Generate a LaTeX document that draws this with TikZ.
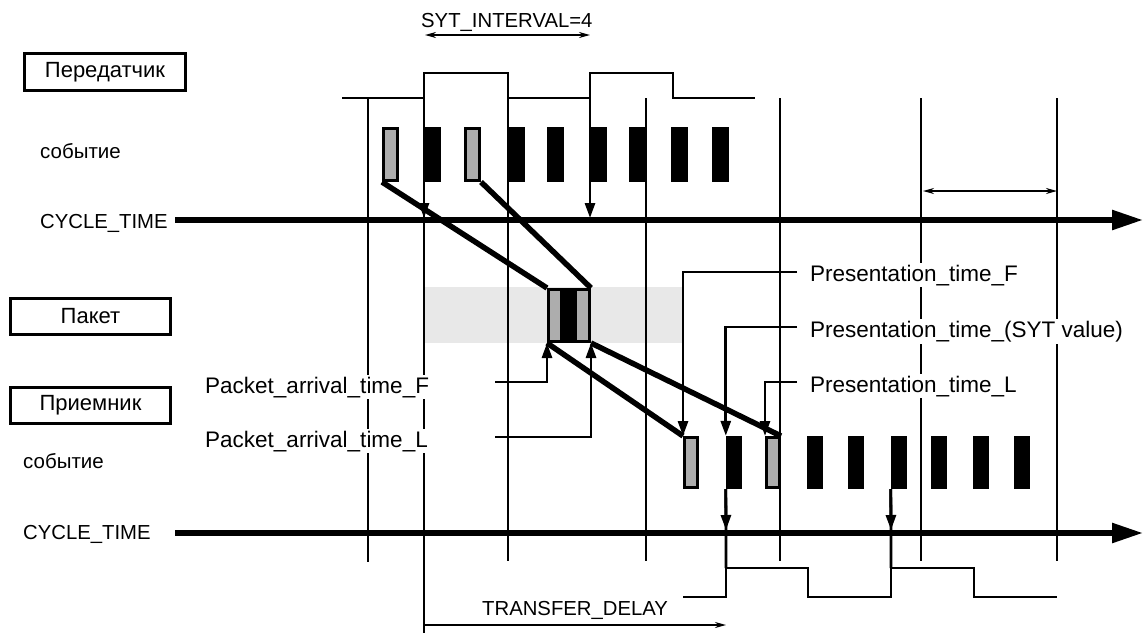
\documentclass[tikz,border=0pt]{standalone}
\usepackage{fontspec}
\setmainfont{Liberation Sans}
\usetikzlibrary{arrows.meta}
\definecolor{evgray}{gray}{0.68}
\definecolor{bandgray}{gray}{0.91}
\begin{document}
\begin{tikzpicture}[x=1pt,y=-1pt,
  thinln/.style={line width=2.8pt},
  axisln/.style={line width=5.5pt,-{Triangle[length=31pt,width=19pt]}},
  diagln/.style={line width=5.5pt},
  leadln/.style={line width=2.8pt,-{Triangle[length=15pt,width=10pt]}},
  dimln/.style={line width=1.6pt},
  topg/.style={draw,line width=2.8pt,fill=evgray,inner sep=0,minimum width=14.2pt,minimum height=52.2pt},
  topb/.style={fill=black,inner sep=0,minimum width=17pt,minimum height=55pt},
  botg/.style={draw,line width=2.8pt,fill=evgray,inner sep=0,minimum width=13.2pt,minimum height=50.2pt},
  botb/.style={fill=black,inner sep=0,minimum width=16pt,minimum height=53pt},
  lbox/.style={draw,line width=2.8pt,inner sep=0,minimum width=160.2pt,minimum height=36.2pt,font=\fontsize{22}{26}\selectfont},
  lab/.style={fill=white,inner sep=2pt,anchor=base west,font=\fontsize{22.5}{26}\selectfont},
  caps/.style={inner sep=0pt,anchor=base west,font=\fontsize{20.3}{24}\selectfont},
  sob/.style={inner sep=0pt,anchor=base west,font=\fontsize{20.5}{24}\selectfont},
]
\useasboundingbox (0,0) rectangle (1146,635);

% packet band
\fill[bandgray] (425,287) rectangle (683,343);

% top pulse train
\draw[thinln] (342,98) -- (424,98) -- (424,73) -- (508,73) -- (508,98) -- (590,98) -- (590,73) -- (673,73) -- (673,98) -- (755,98);

% vertical grid lines
\draw[thinln] (368,98) -- (368,562);
\draw[thinln] (424,73) -- (424,633);
\draw[thinln] (508,73) -- (508,561);
\draw[leadln] (590,73) -- (590,218);
\draw[thinln] (646,98) -- (646,561);
\draw[thinln] (780,98) -- (780,561);
\draw[thinln] (921,98) -- (921,561);
\draw[thinln] (1057,98) -- (1057,561);
\draw[leadln] (424,190) -- (424,218);

% axes
\draw[axisln] (175,220) -- (1143,220);
\draw[axisln] (175,533) -- (1143,533);

% bottom pulse train
\draw[thinln] (683,597) -- (726,597) -- (726,568) -- (808,568) -- (808,597) -- (891,597) -- (891,568) -- (974,568) -- (974,597) -- (1057,597);

% top events
\node[topg] (t0) at (390.5,154.5) {};
\node[topb] (t1) at (432.5,154.5) {};
\node[topg] (t2) at (472.5,154.5) {};
\foreach \n/\x in {3/516.5,4/555.5,5/598.5,6/637.5,7/679.5,8/720.5}
  \node[topb] (t\n) at (\x,154.5) {};

% bottom events
\node[botg] (b0) at (691,462.5) {};
\node[botb] (b1) at (734,462.5) {};
\node[botg] (b2) at (773,462.5) {};
\foreach \n/\x in {3/815,4/856,5/899,6/939,7/981,8/1022}
  \node[botb] (b\n) at (\x,462.5) {};

% packet
\fill[evgray] (547,288) rectangle (560,343);
\fill[black] (560,288) rectangle (577,343);
\fill[evgray] (577,288) rectangle (591,343);
\node[draw,line width=2.8pt,inner sep=0,minimum width=41.2pt,minimum height=52.2pt] (pk) at (569,315.5) {};

% diagonals
\draw[diagln] (t0.south west) -- (pk.north west);
\draw[diagln] (t2.south east) -- (pk.north east);
\draw[diagln] (pk.south west) -- (b0.north west);
\draw[diagln] (pk.south east) -- (b2.north east);

% bottom arrows to axis
\draw[thinln] (b1.south west) -- (726,568);
\draw[leadln] (b1.south west) -- (726,530);
\draw[thinln] (b5.south west) -- (891,568);
\draw[leadln] (b5.south west) -- (891,530);

% leaders
\coordinate (cpaf) at (495,382);
\coordinate (cpal) at (495,437);
\coordinate (cprf) at (797,272);
\coordinate (cprs) at (797,327);
\coordinate (cprl) at (797,382);
\draw[leadln] (cpaf) -| (pk.south west);
\draw[leadln] (cpal) -| (pk.south east);
\draw[leadln] (cprf) -| (b0.north west);
\draw[leadln] (cprs) -| (b1.north west);
\draw[leadln] (cprl) -| (b2.north west);

% dimension arrows
\coordinate (sa) at (425,35);
\coordinate (sb) at (590,35);
\coordinate (ia) at (923,191);
\coordinate (ib) at (1057,191);
\coordinate (da) at (425,625);
\coordinate (db) at (726,625);
\draw[dimln,{Stealth[length=11pt,width=6pt]}-{Stealth[length=11pt,width=6pt]}] (sa) -- (sb);
\draw[dimln,{Stealth[length=11pt,width=6pt]}-{Stealth[length=11pt,width=6pt]}] (ia) -- (ib);
\draw[dimln,-{Stealth[length=11pt,width=6pt]}] (da) -- (db);

% labels
\node[caps] (syt) at (421,27) {SYT\_INTERVAL=4};
\node[lbox,minimum width=161.2pt,minimum height=37.2pt] (tx) at (105,72) {Передатчик};
\node[sob] (ev1) at (40,158) {событие};
\node[caps] (ct1) at (40,228) {CYCLE\_TIME};
\node[lbox] (pkl) at (90.5,316.5) {Пакет};
\node[lbox] (rx) at (90.5,405.5) {Приемник};
\node[sob] (ev2) at (23,468) {событие};
\node[caps] (ct2) at (23,539) {CYCLE\_TIME};
\node[lab] (paf) at (203,393) {Packet\_arrival\_time\_F};
\node[lab] (pal) at (203,447) {Packet\_arrival\_time\_L};
\node[lab] (prf) at (808,281) {Presentation\_time\_F};
\node[lab] (prs) at (808,337) {Presentation\_time\_(SYT value)};
\node[lab] (prl) at (808,392) {Presentation\_time\_L};
\node[caps] (td) at (482,615) {TRANSFER\_DELAY};
\end{tikzpicture}
\end{document}
